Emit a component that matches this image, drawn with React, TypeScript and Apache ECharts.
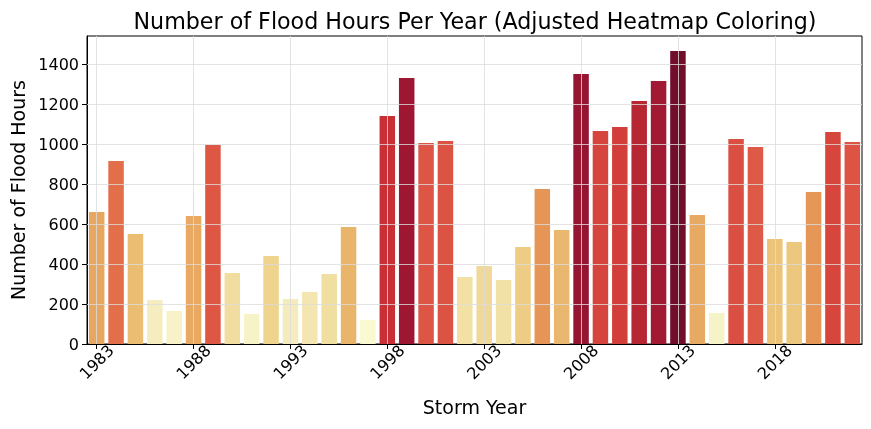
import React, { useEffect, useRef } from "react";
import * as echarts from "echarts";

const years = [
  "1983", "1984", "1985", "1986", "1987", "1988", "1989", "1990", "1991", "1992",
  "1993", "1994", "1995", "1996", "1997", "1998", "1999", "2000", "2001", "2002",
  "2003", "2004", "2005", "2006", "2007", "2008", "2009", "2010", "2011", "2012",
  "2013", "2014", "2015", "2016", "2017", "2018", "2019", "2020", "2021", "2022",
];

const floodHours = [
  660, 915, 550, 220, 165, 640, 995, 355, 150, 440,
  225, 260, 350, 585, 120, 1140, 1330, 1005, 1015, 335,
  390, 320, 485, 775, 570, 1350, 1065, 1085, 1215, 1315,
  1465, 645, 155, 1025, 985, 525, 510, 760, 1060, 1010,
];

const yTicks = [0, 200, 400, 600, 800, 1000, 1200, 1400];
const xTickYears = ["1983", "1988", "1993", "1998", "2003", "2008", "2013", "2018"];

// colour scale (value -> colour)
const colorStops: [number, string][] = [
  [120, "#F9F9D2"],
  [150, "#F7F3C9"],
  [220, "#F5EDC0"],
  [260, "#F3E6B0"],
  [335, "#F2E0A4"],
  [390, "#F0D898"],
  [440, "#EED48C"],
  [485, "#EDCC85"],
  [525, "#EBC47A"],
  [570, "#E9B86E"],
  [640, "#E8AA62"],
  [700, "#E6A05C"],
  [775, "#E59556"],
  [915, "#E36E4A"],
  [1000, "#DE5645"],
  [1060, "#D6463D"],
  [1140, "#C93036"],
  [1215, "#B72633"],
  [1330, "#9E1732"],
  [1350, "#961530"],
  [1465, "#710F2A"],
];

function hexToRgb(h: string) {
  const n = parseInt(h.slice(1), 16);
  return [(n >> 16) & 255, (n >> 8) & 255, n & 255];
}

function colorFor(v: number) {
  if (v <= colorStops[0][0]) return colorStops[0][1];
  for (let i = 1; i < colorStops.length; i++) {
    const [v1, c1] = colorStops[i];
    if (v <= v1) {
      const [v0, c0] = colorStops[i - 1];
      const t = (v - v0) / (v1 - v0);
      const a = hexToRgb(c0);
      const b = hexToRgb(c1);
      const r = a.map((x, k) => Math.round(x + (b[k] - x) * t));
      return `rgb(${r[0]},${r[1]},${r[2]})`;
    }
  }
  return colorStops[colorStops.length - 1][1];
}

export default function App() {
  const ref = useRef<HTMLDivElement>(null);

  useEffect(() => {
    document.body.style.margin = "0";
    const chart = echarts.init(ref.current!, null, { renderer: "svg" });
    const gridColor = "#dcdcdc";
    chart.setOption({
      animation: false,
      textStyle: { fontFamily: "DejaVu Sans", color: "#000" },
      title: {
        text: "Number of Flood Hours Per Year (Adjusted Heatmap Coloring)",
        left: 470,
        textAlign: "center",
        top: 5,
        textStyle: { fontFamily: "DejaVu Sans", fontSize: 22.2, fontWeight: "normal", color: "#000" },
      },
      grid: {
        left: 87,
        top: 36,
        width: 775,
        height: 308,
        containLabel: false,
        outerBoundsMode: "none",
        show: true,
        borderColor: "#000",
        borderWidth: 1,
        backgroundColor: "transparent",
      },
      xAxis: {
        type: "category",
        data: years,
        name: "Storm Year",
        nameLocation: "middle",
        nameGap: 53,
        nameTextStyle: { fontSize: 19, color: "#000", fontFamily: "DejaVu Sans" },
        axisLine: { show: true, lineStyle: { color: "#000", width: 1 } },
        axisTick: { show: true, alignWithLabel: true, interval: 4, length: 5, lineStyle: { color: "#000" } },
        axisLabel: {
          interval: 4,
          rotate: 45,
          align: "center",
          verticalAlign: "middle",
          margin: 18,
          fontSize: 16,
          color: "#000",
          fontFamily: "DejaVu Sans",
        },
        splitLine: { show: false },
      },
      yAxis: {
        type: "value",
        min: 0,
        max: 1540,
        interval: 200,
        name: "Number of Flood Hours",
        nameLocation: "middle",
        nameGap: 60,
        nameTextStyle: { fontSize: 19, color: "#000", fontFamily: "DejaVu Sans" },
        axisLine: { show: true, lineStyle: { color: "#000", width: 1 } },
        axisTick: { show: true, length: 5, lineStyle: { color: "#000" }, customValues: yTicks },
        axisLabel: {
          fontSize: 16,
          color: "#000",
          margin: 8,
          customValues: yTicks,
          formatter: (v: number) => String(v),
          fontFamily: "DejaVu Sans",
        },
        splitLine: { show: false },
      },
      series: [
        {
          type: "bar",
          data: floodHours.map((v) => ({ value: v, itemStyle: { color: colorFor(v) } })),
          barWidth: "80%",
          markLine: {
            silent: true,
            symbol: ["none", "none"],
            label: { show: false },
            lineStyle: { color: gridColor, width: 0.8, type: "solid" },
            emphasis: { disabled: true },
            data: [
              ...xTickYears.map((y) => ({ xAxis: y })),
              ...yTicks.filter((t) => t > 0).map((t) => ({ yAxis: t })),
            ],
          },
        },
      ],
    });
    return () => chart.dispose();
  }, []);

  return (
    <div
      ref={ref}
      style={{ position: "fixed", left: 0, top: 0, width: 871, height: 429 }}
    />
  );
}
